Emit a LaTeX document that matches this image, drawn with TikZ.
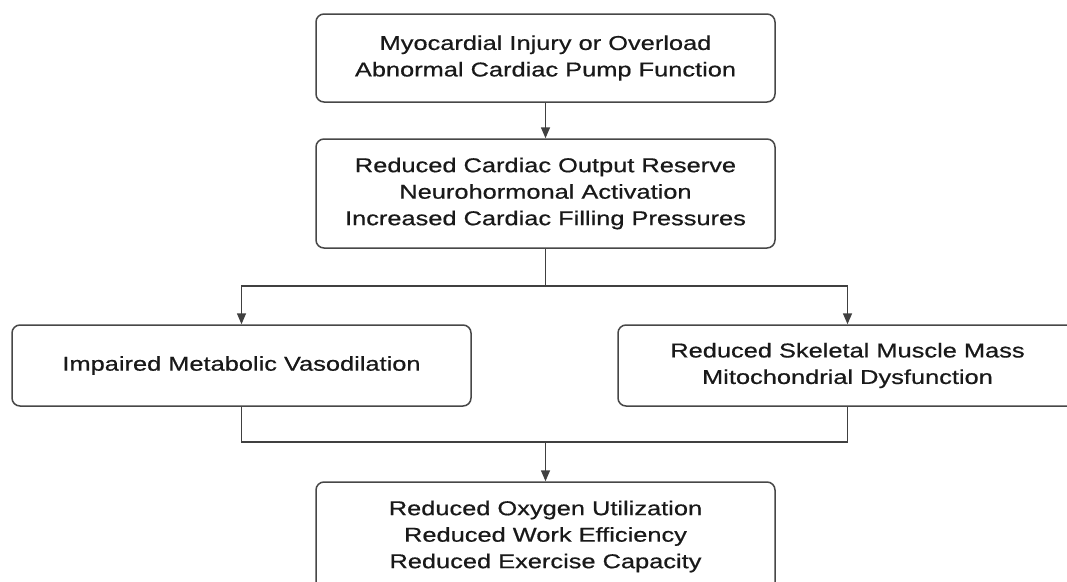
\documentclass[tikz,border=0pt]{standalone}
\usepackage{fontspec}
\setmainfont{Liberation Sans}[FakeStretch=1.27,FakeBold=0.6]
\usetikzlibrary{arrows.meta}
\begin{document}
\begin{tikzpicture}[x=1pt,y=-1pt,
  box/.style={draw=black!72, line width=1.5pt, rounded corners=8pt, fill=white,
    minimum width=459pt, align=center, text=black!90,
    font=\fontsize{20}{26.5}\selectfont, inner sep=0pt},
  link/.style={draw=black!75, line width=1.5pt},
  arr/.style={link, -{Triangle[length=11pt,width=9pt]}}]
\useasboundingbox (0,0) rectangle (1067,581);
\clip (0,0) rectangle (1067,581);
\fill[white] (0,0) rectangle (1067,581);
\node[box, minimum height=88pt] (b1) at (545.5,58)
  {Myocardial Injury or Overload\\Abnormal Cardiac Pump Function};
\node[box, minimum height=109pt] (b2) at (545.5,193.5)
  {Reduced Cardiac Output Reserve\\Neurohormonal Activation\\Increased Cardiac Filling Pressures};
\node[box, minimum height=81pt] (l) at (241.5,365.5)
  {Impaired Metabolic Vasodilation};
\node[box, minimum height=81pt] (r) at (847.5,365.5)
  {Reduced Skeletal Muscle Mass\\Mitochondrial Dysfunction};
\node[box, minimum height=109pt] (b3) at (545.5,536.5)
  {Reduced Oxygen Utilization\\Reduced Work Efficiency\\Reduced Exercise Capacity};
\coordinate (j1) at (545.5,286);
\coordinate (j2) at (545.5,442);
\draw[arr] (b1.south) -- (b2.north);
\draw[link] (b2.south) -- (j1);
\draw[arr] (j1) -| (l.north);
\draw[arr] (j1) -| (r.north);
\draw[link] (l.south) |- (j2) -| (r.south);
\draw[arr] (j2) -- (b3.north);
\end{tikzpicture}
\end{document}
